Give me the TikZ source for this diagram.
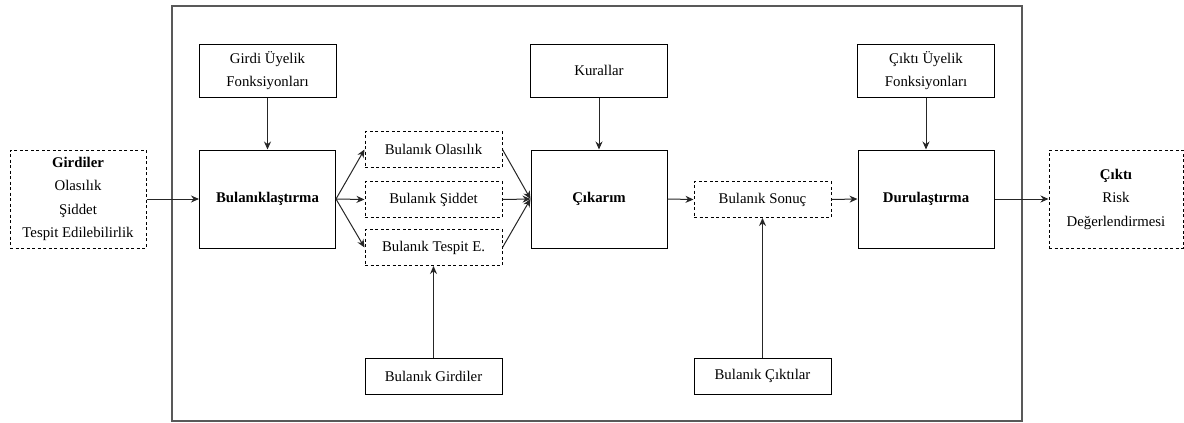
\documentclass[tikz,border=0pt]{standalone}
\usepackage{fontspec}
\setmainfont{Liberation Serif}
\usetikzlibrary{arrows.meta}
\begin{document}
\begin{tikzpicture}[x=1pt,y=-1pt,
  every node/.style={font=\fontsize{14.8}{23.5}\selectfont, align=center, inner sep=0pt},
  dashbox/.style={draw=black, line width=1pt, dash pattern=on 3pt off 2.5pt, minimum width=137pt, minimum height=36pt},
  bigbox/.style={draw=black, line width=1pt, minimum width=136pt, minimum height=98pt},
  topbox/.style={draw=black, line width=1pt, minimum width=137pt, minimum height=53pt},
  botbox/.style={draw=black, line width=1pt, minimum width=137pt, minimum height=36pt},
  conn/.style={draw=black!85, line width=1pt, -{Stealth[length=8pt,width=7pt]}}
]
\useasboundingbox (0,0) rectangle (1184,423);
% outer frame
\draw[black!65, line width=1.4pt] (172,6) rectangle (1022,421);

% main row
\node[dashbox, minimum width=136pt, minimum height=98pt] (in) at (78,199)
  {\textbf{Girdiler}\\Olasılık\\Şiddet\\Tespit Edilebilirlik};
\node[bigbox] (fuz) at (267.5,199) {\textbf{Bulanıklaştırma}};
\node[dashbox] (bo) at (433.5,149.5) {Bulanık Olasılık};
\node[dashbox] (bs) at (433.5,199.5) {Bulanık Şiddet};
\node[dashbox] (bt) at (433.5,247.5) {Bulanık Tespit E.};
\node[bigbox] (inf) at (599,199) {\textbf{Çıkarım}};
\node[dashbox] (son) at (762.5,199.5) {Bulanık Sonuç};
\node[bigbox] (def) at (926,199) {\textbf{Durulaştırma}};
\node[dashbox, minimum width=134pt, minimum height=98pt] (out) at (1116,199)
  {\textbf{Çıktı}\\Risk\\Değerlendirmesi};

% top row
\node[topbox] (gu) at (267.5,70.5) {Girdi Üyelik\\Fonksiyonları};
\node[topbox] (kur) at (599,70.5) {Kurallar};
\node[topbox] (cu) at (926,70.5) {Çıktı Üyelik\\Fonksiyonları};

% bottom row
\node[botbox] (bg) at (433.5,376) {Bulanık Girdiler};
\node[botbox] (bc) at (762.5,376) {Bulanık Çıktılar};

% connectors
\draw[conn] (in.east) -- (fuz.west);
\draw[conn] (gu.south) -- (fuz.north);
\draw[conn] (fuz.east) -- (bo.west);
\draw[conn] (fuz.east) -- (bs.west);
\draw[conn] (fuz.east) -- (bt.west);
\draw[conn] (bo.east) -- (inf.west);
\draw[conn] (bs.east) -- (inf.west);
\draw[conn] (bt.east) -- (inf.west);
\draw[conn] (kur.south) -- (inf.north);
\draw[conn] (inf.east) -- (son.west);
\draw[conn] (son.east) -- (def.west);
\draw[conn] (cu.south) -- (def.north);
\draw[conn] (def.east) -- (out.west);
\draw[conn] (bg.north) -- (bt.south);
\draw[conn] (bc.north) -- (son.south);
\end{tikzpicture}
\end{document}
